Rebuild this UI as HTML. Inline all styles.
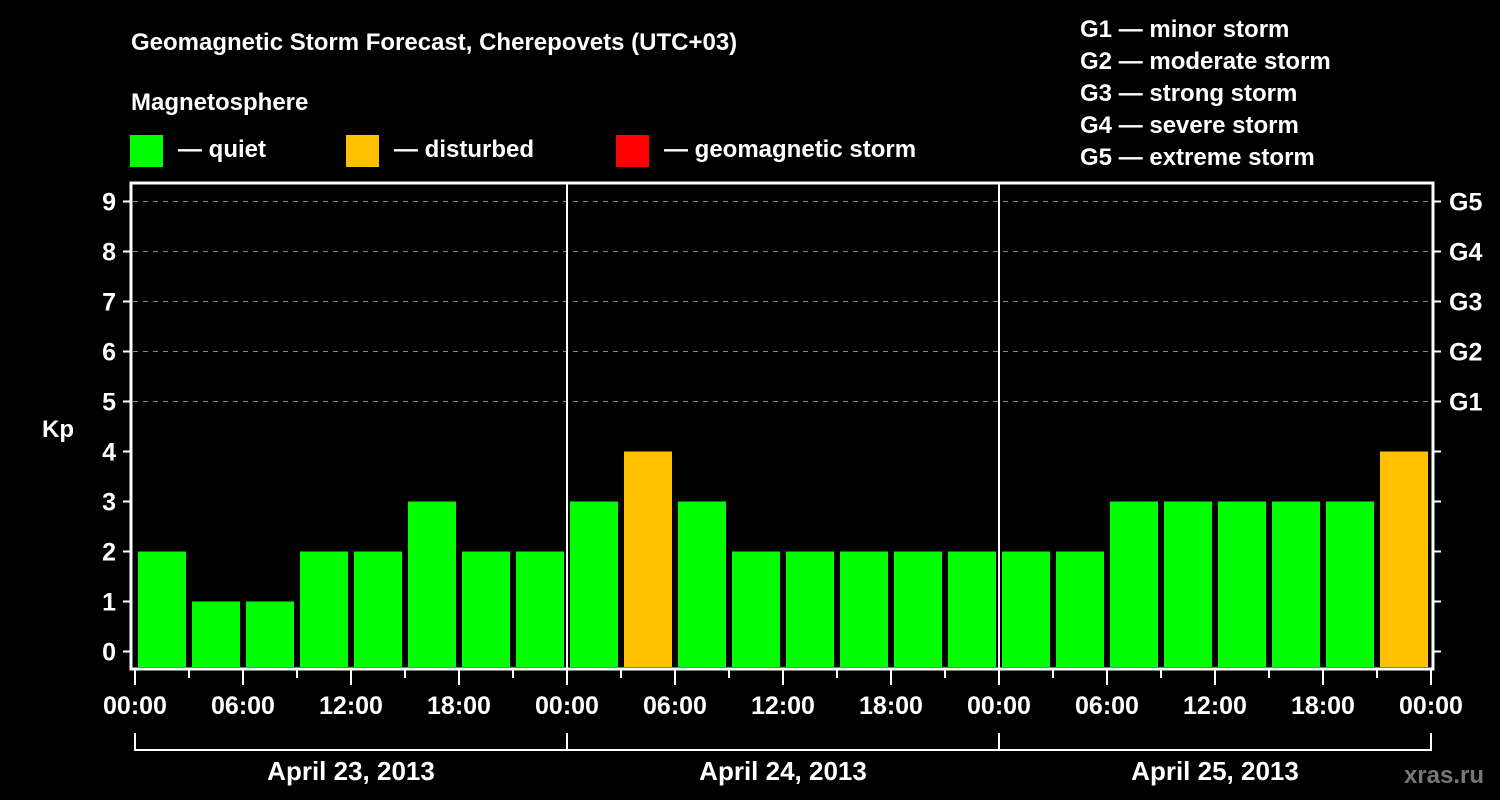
<!DOCTYPE html>
<html><head><meta charset="utf-8"><style>
html,body{margin:0;padding:0;background:#000;}
svg{display:block;font-family:"Liberation Sans",sans-serif;font-weight:bold;}
</style></head><body>
<svg id="c" width="1500" height="800" xmlns="http://www.w3.org/2000/svg">
<text x="131" y="50" fill="#fff" font-size="24">Geomagnetic Storm Forecast, Cherepovets (UTC+03)</text>
<text x="131" y="110" fill="#fff" font-size="24">Magnetosphere</text>
<g><rect x="130" y="135" width="33" height="32" fill="#00ff00"/><text x="178" y="157" fill="#fff" font-size="24">— quiet</text></g>
<g><rect x="346" y="135" width="33" height="32" fill="#ffc000"/><text x="394" y="157" fill="#fff" font-size="24">— disturbed</text></g>
<g><rect x="616" y="135" width="33" height="32" fill="#ff0000"/><text x="664" y="157" fill="#fff" font-size="24">— geomagnetic storm</text></g>
<g font-size="24" fill="#fff">
<text x="1080" y="37">G1 — minor storm</text><text x="1080" y="69">G2 — moderate storm</text><text x="1080" y="101">G3 — strong storm</text><text x="1080" y="133">G4 — severe storm</text><text x="1080" y="165">G5 — extreme storm</text></g>
<text x="42" y="437" fill="#fff" font-size="24">Kp</text>
<text x="1484" y="783" fill="#777" font-size="24" text-anchor="end">xras.ru</text>
<g id="plot"></g>
</svg>
<script>
const kpValues = [2,1,1,2,2,3,2,2, 3,4,3,2,2,2,2,2, 2,2,3,3,3,3,3,4];
const yTicks = [0,1,2,3,4,5,6,7,8,9];
const gLabels = ["G1","G2","G3","G4","G5"];
const xTickLabels = ["00:00","06:00","12:00","18:00","00:00","06:00","12:00","18:00","00:00","06:00","12:00","18:00","00:00"];
const dayLabels = ["April 23, 2013","April 24, 2013","April 25, 2013"];
const NS="http://www.w3.org/2000/svg";
const X0=135, HOUR=18;
const xs=h=>X0+h*HOUR;
const ys=v=>651.5-50*v;
const g=document.getElementById('plot');
function mk(t,a,p){const e=document.createElementNS(NS,t);for(const k in a)e.setAttribute(k,a[k]);(p||g).appendChild(e);return e;}
// grid
yTicks.forEach(v=>{if(v>=5){const l=mk('line',{x1:133,x2:1431,y1:ys(v),y2:ys(v),stroke:'#888','stroke-dasharray':'5,5','stroke-width':1});

}});
// bars
kpValues.forEach((v,i)=>{const col=v>=5?'#ff0000':(v>=4?'#ffc000':'#00ff00');
const r=mk('rect',{x:xs(i*3)+3,y:ys(v),width:48,height:667-ys(v),fill:col});

});
// day separators
[1,2].forEach(d=>{const l=mk('line',{x1:xs(d*24),x2:xs(d*24),y1:182,y2:668,stroke:'#fff','stroke-width':2});

});
// frame
const fr=mk('rect',{x:131,y:183,width:1302,height:486,fill:'none',stroke:'#fff','stroke-width':3});


// y ticks and labels
yTicks.forEach(v=>{mk('line',{x1:123,x2:131,y1:ys(v),y2:ys(v),stroke:'#fff','stroke-width':2});
mk('line',{x1:1433,x2:1441,y1:ys(v),y2:ys(v),stroke:'#fff','stroke-width':2});
const t=mk('text',{x:116,y:ys(v)+9,fill:'#fff','font-size':25,'text-anchor':'end'});t.textContent=v;

});
gLabels.forEach((s,i)=>{const t=mk('text',{x:1449,y:ys(5+i)+9,fill:'#fff','font-size':25});t.textContent=s;

});
// x ticks
for(let i=0;i<=24;i++){const x=xs(i*3);mk('line',{x1:x,x2:x,y1:670,y2:i%2?678:685,stroke:'#fff','stroke-width':2});}
xTickLabels.forEach((s,i)=>{const t=mk('text',{x:xs(i*6),y:714,fill:'#fff','font-size':25,'text-anchor':'middle'});t.textContent=s;

});
// bracket
mk('line',{x1:xs(0),x2:xs(72),y1:750,y2:750,stroke:'#fff','stroke-width':2});
for(let d=0;d<=3;d++)mk('line',{x1:xs(d*24),x2:xs(d*24),y1:733,y2:751,stroke:'#fff','stroke-width':2});
dayLabels.forEach((s,i)=>{const t=mk('text',{x:xs(i*24+12),y:780,fill:'#fff','font-size':26,'text-anchor':'middle'});t.textContent=s;

});
</script>
</body></html>
